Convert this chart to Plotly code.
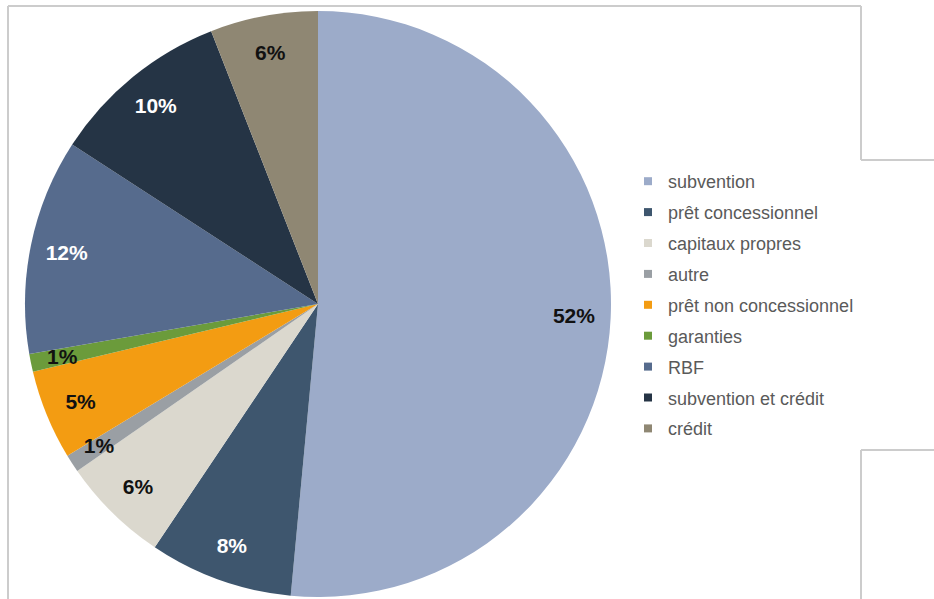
import plotly.graph_objects as go

# Share of financing instruments (%)
categories = [
    "subvention",
    "prêt concessionnel",
    "capitaux propres",
    "autre",
    "prêt non concessionnel",
    "garanties",
    "RBF",
    "subvention et crédit",
    "crédit",
]
shares = [52, 8, 6, 1, 5, 1, 12, 10, 6]

colors = [
    "#9cabc9",
    "#3e566e",
    "#dbd8ce",
    "#9a9fa4",
    "#f39c12",
    "#6b9b3b",
    "#566b8d",
    "#253445",
    "#8f8773",
]
label_colors = ["#111111", "#ffffff", "#111111", "#111111", "#111111",
                "#111111", "#ffffff", "#ffffff", "#111111"]

W, H = 934, 599
cx, cy, r = 318, 304, 293
label_font = dict(family="Liberation Sans, Arial, sans-serif",
                  size=21, weight="bold", color=label_colors)


def domain(radius):
    return dict(x=[(cx - radius) / W, (cx + radius) / W],
                y=[(H - (cy + radius)) / H, (H - (cy - radius)) / H])


fig = go.Figure()

# Filled slices
fig.add_trace(go.Pie(
    labels=categories,
    values=shares,
    sort=False,
    direction="clockwise",
    rotation=0,
    marker=dict(colors=colors, line=dict(width=0)),
    textinfo="none",
    hoverinfo="label+text",
    text=[f"{v}%" for v in shares],
    domain=domain(r),
    showlegend=False,
))


def label_ring(radius, hole, keep):
    # Transparent ring over the slices that only carries the labels
    return go.Pie(
        labels=categories,
        values=shares,
        sort=False,
        direction="clockwise",
        rotation=0,
        hole=hole,
        marker=dict(colors=["rgba(0,0,0,0)"] * len(shares), line=dict(width=0)),
        text=[f"{v}%" if keep(v) else "" for v in shares],
        textinfo="text",
        textposition="inside",
        insidetextorientation="horizontal",
        insidetextfont=label_font,
        hoverinfo="skip",
        domain=domain(radius),
        showlegend=False,
    )


# Wider slices: labels in the outer ring
fig.add_trace(label_ring(r, 0.75, lambda v: v > 1))
# Thin slices: a slightly smaller ring keeps their labels off the rim
fig.add_trace(label_ring(r - 24, 0.7, lambda v: v <= 1))

# Legend entries with small square swatches
for i, (name, col) in enumerate(zip(categories, colors)):
    fig.add_trace(go.Scatter(
        x=[None], y=[None], mode="markers", name=name,
        legendgroup=f"g{i}",
        marker=dict(symbol="square", size=8, color=col),
        hoverinfo="skip",
    ))

# Light frame around the chart, open where the legend sits
frame = "#cccccc"
lines = [
    (8, 6, 861, 6),
    (8, 6, 8, 599),
    (861, 6, 861, 160),
    (861, 160, 934, 160),
    (861, 450, 934, 450),
    (861, 450, 861, 599),
]
shapes = [
    dict(type="line", xref="paper", yref="paper",
         x0=x0 / W, y0=1 - y0 / H, x1=x1 / W, y1=1 - y1 / H,
         line=dict(color=frame, width=2))
    for x0, y0, x1, y1 in lines
]

fig.update_layout(
    width=W, height=H,
    margin=dict(l=0, r=0, t=0, b=0),
    paper_bgcolor="white",
    plot_bgcolor="white",
    xaxis=dict(visible=False),
    yaxis=dict(visible=False),
    shapes=shapes,
    uniformtext=dict(mode="show", minsize=21),
    legend=dict(
        x=628 / W, xanchor="left",
        y=1 - 163 / H, yanchor="top",
        traceorder="grouped",
        tracegroupgap=4.5,
        font=dict(family="Liberation Sans, Arial, sans-serif", size=18,
                  color="#5a5a5a"),
        bgcolor="rgba(0,0,0,0)",
        itemclick=False, itemdoubleclick=False,
    ),
)

fig.write_html("out.html")
